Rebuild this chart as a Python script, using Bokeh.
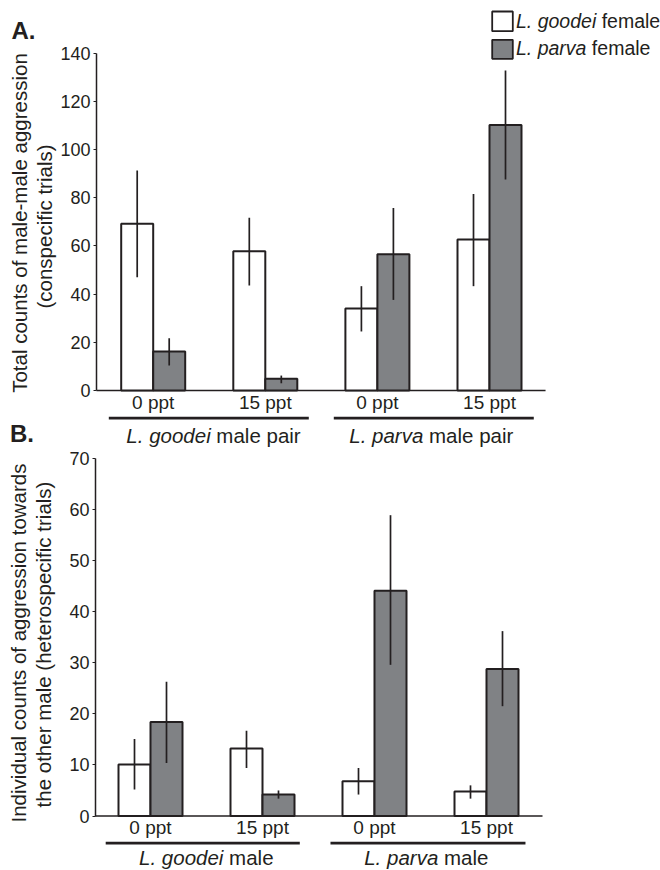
import numpy as np
from bokeh.plotting import figure
from bokeh.models import Range1d, FixedTicker, LinearAxis
from bokeh.layouts import column
from bokeh.embed import file_html
from bokeh.resources import INLINE
from bokeh.core.properties import value

# ---------------- data ----------------
salinity = ["0 ppt", "15 ppt", "0 ppt", "15 ppt"]
legend_names = [("L. goodei", "female"), ("L. parva", "female")]
groups_A = [("L. goodei", "male pair"), ("L. parva", "male pair")]
groups_B = [("L. goodei", "male"), ("L. parva", "male")]
ylabel_A = ["Total counts of male-male aggression", "(conspecific trials)"]
ylabel_B = ["Individual counts of aggression towards", "the other male (heterospecific trials)"]

a_goodei = [69.2, 57.8, 34.0, 62.7]
a_goodei_lo = [47.0, 43.6, 24.5, 43.3]
a_goodei_hi = [91.3, 71.7, 43.3, 81.6]
a_parva = [16.2, 4.9, 56.6, 110.2]
a_parva_lo = [10.4, 3.0, 37.6, 87.6]
a_parva_hi = [21.7, 6.2, 75.8, 132.8]

b_goodei = [10.1, 13.2, 6.8, 4.8]
b_goodei_lo = [5.2, 9.4, 4.2, 3.4]
b_goodei_hi = [15.1, 16.7, 9.4, 6.0]
b_parva = [18.4, 4.2, 44.1, 28.8]
b_parva_lo = [10.4, 3.4, 29.6, 21.5]
b_parva_hi = [26.3, 5.0, 58.9, 36.2]

a_ticks = [0, 20, 40, 60, 80, 100, 120, 140]
b_ticks = [0, 10, 20, 30, 40, 50, 60, 70]

# ---------------- style ----------------
DARK = "#231f20"
GRAY = "#808285"
FONT = value("Liberation Sans")
W = 660
MID = 0.35  # cap-centre above the baseline, in em
AW = {' ': 278, '.': 278, 'L': 556, 'g': 556, 'o': 556, 'd': 556, 'e': 556, 'i': 222,
      'm': 833, 'a': 556, 'l': 222, 'p': 556, 'r': 333, 'v': 500, 'f': 278}


def tw(s, size):
    return sum(AW.get(c, 556) for c in s) * size / 1000.0


def put_text(p, X, Y, txt, x_px, base_px, fs, align="left", style="normal"):
    p.text(x=[X(x_px)], y=[Y(base_px - MID * fs)], text=[txt], text_align=align,
           text_baseline="middle", text_font=FONT, text_font_size=f"{fs}px",
           text_font_style=style, text_color=DARK)


def mixed(p, X, Y, it, rest, left_px, base_px, fs):
    """italic species name followed by upright text"""
    put_text(p, X, Y, it, left_px, base_px, fs, style="italic")
    put_text(p, X, Y, rest, left_px + tw(it + " ", fs), base_px, fs)


def build(top, height, axis_x, c0, step, y0px, ppu, ticks, goodei, g_lo, g_hi,
          parva, p_lo, p_hi, groups, glines, gcenters, tick_base, line_y, glab_base,
          ylabels, ylab_pos):
    X = lambda px: (px - c0) / step
    Y = lambda py: (y0px - py) / ppu
    xr = Range1d(X(0), X(W))
    yr = Range1d(Y(top + height), Y(top))
    p = figure(width=W, height=height, x_range=xr, y_range=yr,
               x_axis_location=None, y_axis_location=None, toolbar_location=None,
               output_backend="svg", min_border=0, outline_line_color=None,
               background_fill_color="white", border_fill_color="white")
    p.xgrid.visible = False
    p.ygrid.visible = False
    ax = LinearAxis(fixed_location=X(axis_x), ticker=FixedTicker(ticks=ticks),
                    bounds=(ticks[0], ticks[-1]))
    ax.major_tick_out = 3
    ax.major_tick_in = 0
    ax.minor_tick_line_color = None
    ax.axis_line_width = 1.5
    ax.axis_line_color = DARK
    ax.major_tick_line_color = DARK
    ax.major_tick_line_width = 1.2
    ax.major_label_text_font = "Liberation Sans"
    ax.major_label_text_font_size = "18px"
    ax.major_label_text_color = DARK
    ax.major_label_standoff = 3
    p.add_layout(ax, "left")

    x = np.arange(len(goodei), dtype=float)
    w = 32.0 / step
    # baseline (x axis line)
    p.segment(x0=[X(axis_x)], y0=[0], x1=[3.5], y1=[0], line_color=DARK, line_width=1.5)
    p.vbar(x=x - w / 2, top=goodei, bottom=0, width=w, fill_color="white",
           line_color=DARK, line_width=2)
    p.vbar(x=x + w / 2, top=parva, bottom=0, width=w, fill_color=GRAY,
           line_color=DARK, line_width=2)
    p.segment(x0=x - w / 2, y0=g_lo, x1=x - w / 2, y1=g_hi, line_color=DARK, line_width=1.7)
    p.segment(x0=x + w / 2, y0=p_lo, x1=x + w / 2, y1=p_hi, line_color=DARK, line_width=1.7)

    # category labels
    tfs = 19
    p.text(x=x, y=Y(tick_base - MID * tfs), text=salinity, text_align="center",
           text_baseline="middle", text_font=FONT, text_font_size=f"{tfs}px",
           text_color=DARK)
    # group underlines
    p.segment(x0=[g[0] for g in glines], y0=Y(line_y), x1=[g[1] for g in glines],
              y1=Y(line_y), line_color=DARK, line_width=2.7)
    # group labels
    fs = 20.5
    for (it, rest), cx in zip(groups, gcenters):
        total = tw(it + " " + rest, fs)
        mixed(p, X, Y, it, rest, cx - total / 2, glab_base, fs)
    # y-axis titles
    for t, (px, py) in zip(ylabels, ylab_pos):
        p.text(x=[X(px)], y=[Y(py)], text=[t], angle=np.pi / 2,
               text_align="center", text_baseline="middle", text_font=FONT,
               text_font_size="20.5px", text_color=DARK)
    return p, X, Y


pA, XA, YA = build(top=0, height=447, axis_x=96, c0=152.7, step=112.1, y0px=390.0,
                   ppu=337.3 / 140, ticks=a_ticks,
                   goodei=a_goodei, g_lo=a_goodei_lo, g_hi=a_goodei_hi,
                   parva=a_parva, p_lo=a_parva_lo, p_hi=a_parva_hi,
                   groups=groups_A, glines=[(-0.396, 1.388), (1.611, 3.395)],
                   gcenters=[213.0, 430.8], tick_base=408.3, line_y=417.7,
                   glab_base=441.7, ylabels=ylabel_A,
                   ylab_pos=[(18.5, 222.5), (43.5, 226.0)])

pB, XB, YB = build(top=447, height=423, axis_x=95, c0=150.0, step=112.0, y0px=815.5,
                   ppu=357.5 / 70, ticks=b_ticks,
                   goodei=b_goodei, g_lo=b_goodei_lo, g_hi=b_goodei_hi,
                   parva=b_parva, p_lo=b_parva_lo, p_hi=b_parva_hi,
                   groups=groups_B, glines=[(-0.40, 1.333), (1.607, 3.348)],
                   gcenters=[205.8, 425.8], tick_base=833.3, line_y=842.7,
                   glab_base=864.0, ylabels=ylabel_B,
                   ylab_pos=[(18.0, 642.5), (43.0, 644.0)])

# panel letters (both inside the top canvas)
for letter, lx, ly in [("A.", 11.0, 38.0), ("B.", 9.5, 441.5)]:
    put_text(pA, XA, YA, letter, lx, ly, 24, style="bold")

# legend (top right of panel A)
sw = [(11.0, 30.7), (39.3, 58.3)]
fills = ["white", GRAY]
for (t0, t1), fc in zip(sw, fills):
    pA.quad(left=[XA(491.7)], right=[XA(512.3)], top=[YA(t0)], bottom=[YA(t1)],
            fill_color=fc, line_color=DARK, line_width=1.8)
for (it, rest), base in zip(legend_names, [27.0, 54.0]):
    mixed(pA, XA, YA, it, rest, 515.5, base, 19.5)

layout = column(pA, pB, spacing=0)
open("out.html", "w").write(file_html(layout, INLINE))
